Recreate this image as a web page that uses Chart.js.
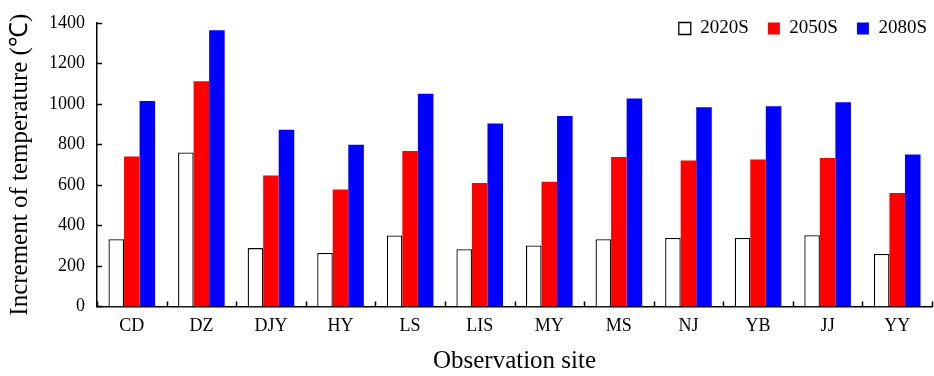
<!DOCTYPE html>
<html>
<head>
<meta charset="utf-8">
<script src="https://cdn.jsdelivr.net/npm/chart.js@4/dist/chart.umd.min.js"></script>
<style>
  html, body { margin: 0; padding: 0; background: #fff; }
  #wrap { width: 934px; height: 376px; }
</style>
</head>
<body>
<div id="wrap"><canvas id="myChart" width="934" height="376"></canvas></div>
<script>
// Observation sites and temperature increments
const sites = ['CD', 'DZ', 'DJY', 'HY', 'LS', 'LIS', 'MY', 'MS', 'NJ', 'YB', 'JJ', 'YY'];
const s2020 = [332, 760, 288, 264, 350, 282, 301, 332, 338, 338, 352, 259];
const s2050 = [740, 1112, 647, 578, 768, 609, 616, 738, 721, 726, 733, 560];
const s2080 = [1015, 1364, 873, 799, 1051, 904, 940, 1027, 984, 989, 1009, 750];
const yTicks = [0, 200, 400, 600, 800, 1000, 1200, 1400];

const serif = 'Liberation Serif';

// legend sits inside the plot: it takes no layout space, then gets its box back
const legendInside = {
    id: 'legendInside',
    beforeInit(chart) {
        const origFit = chart.legend.fit;
        chart.legend.fit = function () {
            origFit.bind(this)();
            this._realH = this.height;
            this.height = 0;
        };
    },
    afterLayout(chart) {
        const lg = chart.legend;
        lg.top = 0;
        lg.height = lg._realH;
        lg.bottom = lg.top + lg._realH;
        lg.left = 12;
        lg.right = chart.width + 12;
    },
};

// short tick marks pointing into the plot
const innerTicks = {
    id: 'innerTicks',
    afterDraw(chart) {
        const c = chart.ctx;
        const x = chart.scales.x;
        const y = chart.scales.y;
        c.save();
        c.strokeStyle = '#000';
        c.lineWidth = 1.5;
        c.beginPath();
        y.ticks.forEach((t, i) => {
            const py = Math.round(y.getPixelForTick(i)) + 0.5;
            c.moveTo(y.right, py);
            c.lineTo(y.right + 5, py);
        });
        const half = (x.getPixelForValue(1) - x.getPixelForValue(0)) / 2;
        for (let i = 0; i <= sites.length; i++) {
            const px = Math.round(x.getPixelForValue(i) - half) + 0.5;
            c.moveTo(px, x.top);
            c.lineTo(px, x.top - 5);
        }
        c.stroke();
        c.restore();
    },
};

const data = {
    labels: sites,
    datasets: [
        { label: '2020S', data: s2020, backgroundColor: '#ffffff', borderColor: '#000000', borderWidth: 1.3 },
        { label: '2050S', data: s2050, backgroundColor: '#ff0000', borderWidth: 0 },
        { label: '2080S', data: s2080, backgroundColor: '#0000ff', borderWidth: 0 },
    ],
};

const options = {
    responsive: false,
    animation: false,
    layout: { padding: { left: 5, right: 2, top: 23, bottom: 0 } },
    datasets: { bar: { barPercentage: 1, categoryPercentage: 0.67 } },
    plugins: {
        tooltip: { enabled: false },
        legend: {
            position: 'top',
            align: 'end',
            labels: {
                font: { family: serif, size: 19 },
                color: '#000',
                boxWidth: 12,
                boxHeight: 12,
                padding: 19,
            },
        },
    },
    scales: {
        x: {
            grid: { display: false, drawTicks: false },
            border: { color: '#000', width: 1.5 },
            ticks: { font: { family: serif, size: 18 }, color: '#000', padding: 9 },
            title: {
                display: true,
                text: 'Observation site',
                font: { family: serif, size: 25 },
                color: '#000',
                padding: { top: 0, bottom: 0 },
            },
        },
        y: {
            min: 0,
            max: 1400,
            afterBuildTicks: (axis) => { axis.ticks = yTicks.map((v) => ({ value: v })); },
            grid: { display: false, drawTicks: false },
            border: { color: '#000', width: 1.5 },
            ticks: {
                font: { family: serif, size: 18 },
                color: '#000',
                padding: 12,
                callback: (v) => String(v),
            },
            title: {
                display: true,
                text: 'Increment of temperature (\u2103)',
                font: { family: serif, size: 25 },
                color: '#000',
                padding: { top: 0, bottom: 2 },
            },
        },
    },
};

var ctx = document.getElementById('myChart').getContext('2d');
var myChart = new Chart(ctx, { type: 'bar', data: data, options: options, plugins: [legendInside, innerTicks] });
</script>
</body>
</html>
